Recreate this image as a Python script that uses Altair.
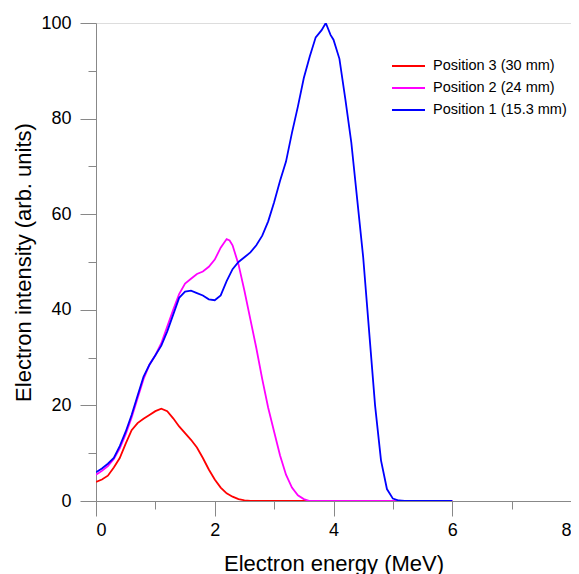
import altair as alt
import pandas as pd

series_names = ["Position 3 (30 mm)", "Position 2 (24 mm)", "Position 1 (15.3 mm)"]
series_colors = ["#ff0000", "#ff00ff", "#0000ff"]

# Position 3 (30 mm) - red
p3_energy = [0.0, 0.1, 0.2, 0.3, 0.4, 0.5, 0.6, 0.7, 0.8, 0.9, 1.0, 1.1, 1.2, 1.3,
             1.4, 1.5, 1.6, 1.7, 1.8, 1.9, 2.0, 2.1, 2.2, 2.3, 2.4, 2.5, 2.6, 3.0,
             4.0, 5.0, 6.0]
p3_intensity = [4.0, 4.5, 5.3, 7.0, 9.0, 12.0, 14.8, 16.3, 17.2, 18.0, 18.8, 19.3,
                18.8, 17.3, 15.6, 14.2, 12.8, 11.2, 9.0, 6.6, 4.5, 2.8, 1.6, 0.9,
                0.4, 0.15, 0.0, 0.0, 0.0, 0.0, 0.0]

# Position 2 (24 mm) - magenta
p2_energy = [0.0, 0.1, 0.2, 0.3, 0.4, 0.5, 0.6, 0.7, 0.8, 0.9, 1.0, 1.1, 1.2, 1.3,
             1.4, 1.5, 1.6, 1.7, 1.8, 1.9, 2.0, 2.1, 2.2, 2.25, 2.3, 2.4, 2.5, 2.6,
             2.7, 2.8, 2.9, 3.0, 3.1, 3.2, 3.3, 3.4, 3.5, 3.6, 4.0, 5.0, 6.0]
p2_intensity = [5.5, 6.3, 7.3, 8.8, 11.0, 14.0, 17.5, 21.5, 25.5, 28.5, 30.5, 33.0,
                36.5, 40.0, 43.3, 45.5, 46.5, 47.5, 48.0, 49.0, 50.5, 53.0, 54.8,
                54.5, 53.5, 49.5, 44.0, 38.0, 32.0, 25.5, 19.5, 14.5, 9.5, 5.5, 2.8,
                1.2, 0.4, 0.0, 0.0, 0.0, 0.0]

# Position 1 (15.3 mm) - blue
p1_energy = [0.0, 0.1, 0.2, 0.3, 0.4, 0.5, 0.6, 0.7, 0.8, 0.9, 1.0, 1.1, 1.2, 1.3,
             1.4, 1.5, 1.6, 1.7, 1.8, 1.9, 2.0, 2.1, 2.2, 2.3, 2.4, 2.5, 2.6, 2.7,
             2.8, 2.9, 3.0, 3.1, 3.2, 3.3, 3.4, 3.5, 3.6, 3.7, 3.8, 3.87, 3.95, 4.0,
             4.1, 4.2, 4.3, 4.4, 4.5, 4.6, 4.7, 4.8, 4.9, 5.0, 5.1, 5.2, 5.5, 6.0]
p1_intensity = [6.0, 6.8, 7.8, 9.0, 11.5, 14.5, 18.0, 22.0, 26.0, 28.5, 30.5, 32.5,
                35.5, 39.0, 42.5, 43.8, 44.0, 43.5, 43.0, 42.2, 42.0, 43.0, 46.0,
                48.5, 50.0, 51.0, 52.0, 53.5, 55.5, 58.5, 62.5, 67.0, 71.0, 77.0,
                82.5, 88.5, 93.0, 97.0, 98.5, 100.0, 97.5, 96.5, 92.5, 84.0, 75.0,
                63.0, 51.0, 35.5, 20.0, 8.5, 2.5, 0.5, 0.1, 0.0, 0.0, 0.0]

x_major = [0, 2, 4, 6, 8]
x_minor = [1, 3, 5, 7]
y_major = [0, 20, 40, 60, 80, 100]
y_minor = [10, 30, 50, 70, 90]

rows = []
for name, xs, ys in zip(series_names,
                        [p3_energy, p2_energy, p1_energy],
                        [p3_intensity, p2_intensity, p1_intensity]):
    for i, (xv, yv) in enumerate(zip(xs, ys)):
        rows.append({"series": name, "energy": xv, "intensity": yv, "idx": i})
df = pd.DataFrame(rows)

FONT = "Liberation Sans"
x_scale = alt.Scale(domain=[0, 8], nice=False, zero=False)
y_scale = alt.Scale(domain=[0, 100], nice=False, zero=False)

legend = alt.Legend(
    title=None, orient="none", legendX=295, legendY=32,
    symbolType="stroke", symbolSize=1089, symbolStrokeWidth=1.8,
    labelFontSize=14.5, labelFont=FONT, labelColor="#000000",
    labelOffset=7, rowPadding=0, clipHeight=22, padding=0,
)
color = alt.Color("series:N",
                  scale=alt.Scale(domain=series_names, range=series_colors),
                  legend=legend)

x_axis = alt.Axis(values=x_major, title="Electron energy (MeV)", format="d",
                  tickSize=15, labelPadding=5, titlePadding=14,
                  labelFontSize=18, titleFontSize=22, titleFontWeight="normal",
                  labelFont=FONT, titleFont=FONT,
                  grid=False, orient="bottom")
y_axis = alt.Axis(values=y_major, title="Electron intensity (arb. units)", format="d",
                  tickSize=16, labelPadding=9, titlePadding=5,
                  labelFontSize=18, titleFontSize=22, titleFontWeight="normal",
                  labelFont=FONT, titleFont=FONT,
                  grid=False, orient="left")


def line_layer(name):
    return alt.Chart(df).transform_filter(
        alt.datum.series == name
    ).mark_line(strokeWidth=1.8, clip=True).encode(
        x=alt.X("energy:Q", scale=x_scale, axis=x_axis),
        y=alt.Y("intensity:Q", scale=y_scale, axis=y_axis),
        color=color,
        order="idx:Q",
    )


lines = alt.layer(*[line_layer(n) for n in series_names])

minor = alt.Chart(df).mark_line(opacity=0).encode(
    x=alt.X("energy:Q", scale=x_scale,
            axis=alt.Axis(values=x_minor, labels=False, domain=False, tickSize=8,
                          title=None, grid=False, orient="bottom")),
    y=alt.Y("intensity:Q", scale=y_scale,
            axis=alt.Axis(values=y_minor, labels=False, domain=False, tickSize=8,
                          title=None, grid=False, orient="left")),
    detail="series:N",
)

chart = alt.layer(lines, minor).resolve_axis(
    x="independent", y="independent"
).properties(
    width=475, height=478,
    autosize=alt.AutoSizeParams(type="none"),
    padding={"left": 88, "top": 15, "right": 0, "bottom": 73},
).configure_view(
    stroke=None
).configure_axis(
    domainColor="#000000", domainWidth=1.5, tickColor="#000000", tickWidth=1.5,
    labelColor="#000000", titleColor="#000000", labelFont=FONT, titleFont=FONT,
    titleFontWeight="normal",
).configure(background="#ffffff")

chart.save("out.html", embed_options={"renderer": "svg", "actions": False})
